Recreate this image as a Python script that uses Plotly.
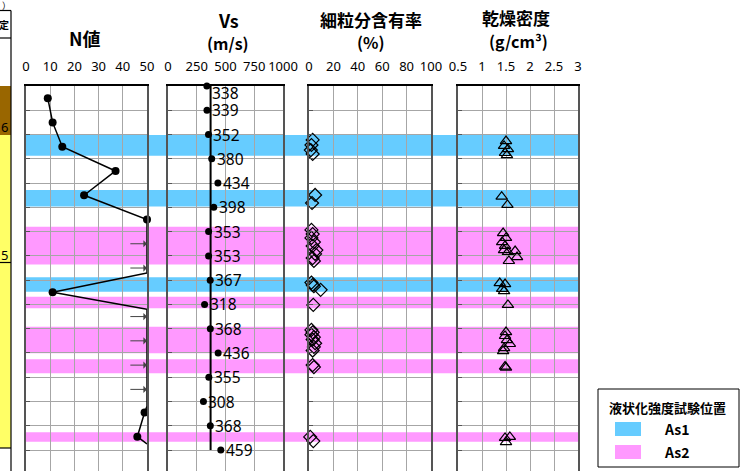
import plotly.graph_objects as go
import numpy as np

W, H = 743, 471

n_depth = [0.5, 1.5, 2.5, 3.5, 4.5, 5.5, 8.5, 13.45, 14.45]
n_value = [9, 11, 15, 37, 24, 50, 11, 49, 46]
# line path (N capped at 50 where the test went over)
n_line_depth = [0.5, 1.5, 2.5, 3.5, 4.5, 5.5, 7.7, 8.5, 9.2, 13.2, 13.45, 14.45, 14.75]
n_line_value = [9, 11, 15, 37, 24, 50, 50, 11, 50, 50, 49, 46, 50]
n_over_depth = [6.5, 7.5, 9.5, 10.5, 11.5, 12.5]

vs_depth = [0, 1, 2, 3, 4, 5, 6, 7, 8, 9, 10, 11, 12, 13, 14, 15]
vs_value = [338, 339, 352, 380, 434, 398, 353, 353, 367, 318, 368, 436, 355, 308, 368, 459]

fc_depth = [2.22, 2.43, 2.64, 2.80, 4.49, 4.82,
            5.93, 6.10, 6.26, 6.43, 6.59, 6.76, 6.92, 7.09, 7.21,
            8.10, 8.20, 8.25, 8.40, 9.02,
            10.05, 10.15, 10.25, 10.35, 10.45, 10.60, 10.75, 10.90,
            11.50, 11.58, 14.46, 14.63]
fc_value = [3, 2, 1.5, 3, 5, 2.5,
            2, 3, 2, 4, 3, 6, 5, 3, 4,
            2, 3, 4, 9.5, 3.5,
            2, 3, 2, 4, 3, 5, 4, 3,
            3, 4, 1, 3.5]

rho_depth = [2.27, 2.47, 2.60, 2.76, 2.85, 4.56, 4.90,
             6.06, 6.26, 6.43, 6.59, 6.76, 6.84, 6.80, 7.05, 7.21,
             8.12, 8.16, 8.36, 8.45, 9.02,
             10.14, 10.30, 10.47, 10.63, 10.80, 10.92,
             11.56, 11.60, 14.50, 14.46, 14.67]
rho_value = [1.50, 1.46, 1.54, 1.48, 1.52, 1.41, 1.53,
             1.44, 1.50, 1.42, 1.48, 1.46, 1.54, 1.69, 1.73, 1.56,
             1.37, 1.48, 1.42, 1.46, 1.54,
             1.50, 1.48, 1.52, 1.58, 1.46, 1.44,
             1.48, 1.50, 1.48, 1.58, 1.50]

as1_top = [2.02, 4.29, 7.88]
as1_bottom = [2.87, 4.97, 8.48]
as2_top = [5.80, 8.68, 9.92, 11.26, 14.27]
as2_bottom = [7.35, 9.16, 11.01, 11.84, 14.66]

BLUE = '#66CCFF'
PINK = '#FF99FF'
FONT = 'Noto Sans CJK JP'
NUMFONT = 'Noto Sans'


def px(x):
    return x / W


def py(y):
    return 1 - y / H


# panel pixel extents
panels = [(26, 147), (168, 283), (309, 431), (458, 578)]
top_px = 86
depth_bottom = (H - top_px) / 24.27

fig = go.Figure()

# N-value
fig.add_trace(go.Scatter(x=n_line_value, y=n_line_depth, mode='lines',
                         line=dict(color='black', width=1.5),
                         xaxis='x', yaxis='y', showlegend=False))
fig.add_trace(go.Scatter(x=n_value, y=n_depth, mode='markers',
                         marker=dict(color='black', size=8),
                         cliponaxis=False,
                         xaxis='x', yaxis='y', showlegend=False))

# Vs
vs_mean = float(np.mean(vs_value))
fig.add_trace(go.Scatter(x=[vs_mean, vs_mean], y=[vs_depth[0], vs_depth[-1]],
                         mode='lines', line=dict(color='black', width=2),
                         xaxis='x2', yaxis='y2', showlegend=False))
fig.add_trace(go.Scatter(x=vs_value, y=vs_depth, mode='markers',
                         marker=dict(color='black', size=7),
                         cliponaxis=False,
                         xaxis='x2', yaxis='y2', showlegend=False))

# fines content
fig.add_trace(go.Scatter(x=fc_value, y=fc_depth, mode='markers',
                         marker=dict(symbol='diamond-open', color='black', size=10,
                                     line=dict(width=1.2)),
                         cliponaxis=False,
                         xaxis='x3', yaxis='y3', showlegend=False))

# dry density
fig.add_trace(go.Scatter(x=rho_value, y=rho_depth, mode='markers',
                         marker=dict(symbol='triangle-up-open', color='black', size=10,
                                     line=dict(width=1.2)),
                         xaxis='x4', yaxis='y4', showlegend=False))

# axes
tick_sets = [
    dict(range=[0, 50], tickvals=[0, 10, 20, 30, 40, 50]),
    dict(range=[0, 1000], tickvals=[0, 250, 500, 750, 1000]),
    dict(range=[0, 100], tickvals=[0, 20, 40, 60, 80, 100]),
    dict(range=[0.5, 3], tickvals=[0.5, 1, 1.5, 2, 2.5, 3],
         ticktext=['0.5', '1', '1.5', '2', '2.5', '3']),
]
layout_axes = {}
for i, ((x0, x1), ts) in enumerate(zip(panels, tick_sets)):
    sfx = '' if i == 0 else str(i + 1)
    layout_axes['xaxis' + sfx] = dict(
        domain=[px(x0), px(x1)], side='top', anchor='y' + sfx,
        showline=True, linecolor='black', linewidth=1.5, mirror=False,
        showgrid=True, gridcolor='#a6a6a6', gridwidth=1,
        ticks='', ticklabelstandoff=8, zeroline=False, tickangle=0,
        automargin=False,
        tickfont=dict(family=NUMFONT, size=13, color='black'),
        fixedrange=True, **ts)
    layout_axes['yaxis' + sfx] = dict(
        domain=[0, py(top_px)], anchor='x' + sfx,
        range=[depth_bottom, 0], dtick=1, showticklabels=False,
        showline=True, linecolor='#555555', linewidth=1.5, mirror=True,
        showgrid=True, gridcolor='#a6a6a6', gridwidth=1,
        ticks='inside', ticklen=4, tickcolor='#555555', zeroline=False,
        automargin=False,
        matches=None if i == 0 else 'y')

shapes = []
# test position bands across all panels
for t, b in zip(as1_top, as1_bottom):
    shapes.append(dict(type='rect', xref='paper', yref='y', x0=px(26), x1=px(578),
                       y0=t, y1=b, fillcolor=BLUE, line=dict(width=0), layer='below'))
for t, b in zip(as2_top, as2_bottom):
    shapes.append(dict(type='rect', xref='paper', yref='y', x0=px(26), x1=px(578),
                       y0=t, y1=b, fillcolor=PINK, line=dict(width=0), layer='below'))

# clipped soil column at left edge
shapes += [
    dict(type='rect', xref='paper', yref='paper', x0=px(-2), x1=px(11), y0=py(135), y1=py(86),
         fillcolor='#996600', line=dict(width=0), layer='below'),
    dict(type='rect', xref='paper', yref='paper', x0=px(-2), x1=px(11), y0=py(448), y1=py(135),
         fillcolor='#FFFF66', line=dict(width=0), layer='below'),
    dict(type='line', xref='paper', yref='paper', x0=px(11), x1=px(11), y0=py(10.5), y1=0,
         line=dict(color='black', width=1.2)),
    dict(type='line', xref='paper', yref='paper', x0=0, x1=px(11), y0=py(10.5), y1=py(10.5),
         line=dict(color='black', width=1.2)),
    dict(type='line', xref='paper', yref='paper', x0=0, x1=px(11), y0=py(38), y1=py(38),
         line=dict(color='black', width=1.2)),
    dict(type='line', xref='paper', yref='paper', x0=0, x1=px(11), y0=py(262.5), y1=py(262.5),
         line=dict(color='black', width=1.2)),
    dict(type='line', xref='paper', yref='paper', x0=0, x1=px(11), y0=py(448), y1=py(448),
         line=dict(color='black', width=1.2)),
]

# legend box
shapes += [
    dict(type='rect', xref='paper', yref='paper', x0=px(598), x1=px(739), y0=py(467), y1=py(389),
         fillcolor='white', line=dict(color='black', width=1)),
    dict(type='rect', xref='paper', yref='paper', x0=px(615), x1=px(641), y0=py(436), y1=py(422),
         fillcolor=BLUE, line=dict(width=0)),
    dict(type='rect', xref='paper', yref='paper', x0=px(615), x1=px(641), y0=py(459), y1=py(445),
         fillcolor=PINK, line=dict(width=0)),
]


def label(text, x, y, size, bold=True, xanchor='center', family=FONT, color='black'):
    t = f'<b>{text}</b>' if bold else text
    return dict(text=t, x=px(x), y=py(y), xref='paper', yref='paper', showarrow=False,
                xanchor=xanchor, yanchor='middle',
                font=dict(family=family, size=size, color=color))


annotations = [
    label('N値', 84, 38, 18),
    label('Vs', 228, 20, 18),
    label('(m/s)', 228, 43, 16),
    label('細粒分含有率', 371, 20, 17),
    label('(%)', 371, 42, 16),
    label('乾燥密度', 516, 18, 17),
    label('(g/cm³)', 518, 41, 16),
    label('液状化強度試験位置', 667, 407, 13),
    label('As1', 662, 429, 14, xanchor='left'),
    label('As2', 662, 452, 14, xanchor='left'),
    label('6', 10, 127, 13, bold=False, xanchor='right', family=NUMFONT),
    label('5', 10, 255, 13, bold=False, xanchor='right', family=NUMFONT),
    label('定', 10.5, 25, 10, xanchor='right'),
    label('）', 6, 6, 9, bold=False),
]

# Vs value labels next to each point (first one nudged below the top border)
for i, (v, d) in enumerate(zip(vs_value, vs_depth)):
    annotations.append(dict(x=v, y=d, xref='x2', yref='y2', text=str(v), showarrow=False,
                            xanchor='left', yanchor='middle', xshift=4,
                            yshift=-7 if i == 0 else 0, borderpad=0,
                            font=dict(family=NUMFONT, size=15.5, color='black')))

# N > 50 arrows
for d in n_over_depth:
    annotations.append(dict(x=50, y=d, ax=42.5, ay=d, xref='x', yref='y', axref='x', ayref='y',
                            showarrow=True, arrowhead=1, arrowsize=1.2, arrowwidth=1,
                            arrowcolor='#444444', text=''))

fig.update_layout(
    width=W, height=H,
    margin=dict(l=0, r=0, t=0, b=0),
    paper_bgcolor='white', plot_bgcolor='rgba(0,0,0,0)',
    showlegend=False,
    shapes=shapes, annotations=annotations,
    **layout_axes,
)

# drop the default page margin so the figure sits at the window's corner
fig.write_html("out.html", config={'displayModeBar': False},
               post_script="document.body.style.margin='0';")
